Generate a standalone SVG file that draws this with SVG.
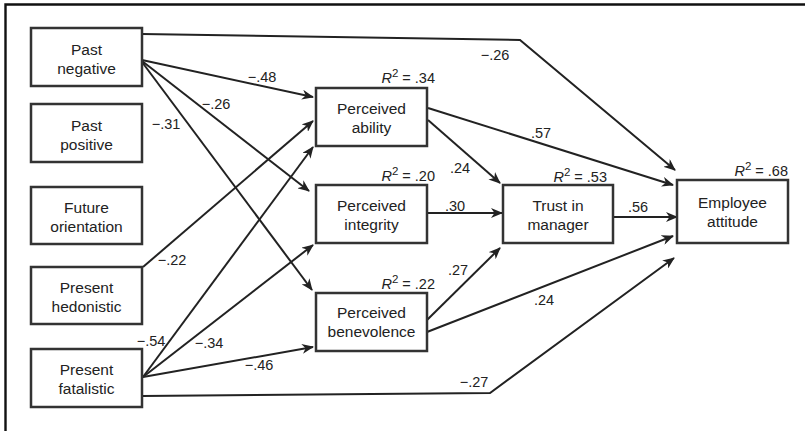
<svg xmlns="http://www.w3.org/2000/svg" width="805" height="431" viewBox="0 0 805 431">
<defs>
<style>
.box{fill:#fff;stroke:#333;stroke-width:2.5}
.nt{font-family:"Liberation Sans",Arial,sans-serif;font-size:15.5px;fill:#222;text-anchor:middle}
.lb{font-family:"Liberation Sans",Arial,sans-serif;font-size:14.5px;fill:#222;text-anchor:middle}
.r2{font-family:"Liberation Sans",Arial,sans-serif;font-size:14.5px;fill:#222;text-anchor:end}
.ln{fill:none;stroke:#222;stroke-width:2}
.ar{marker-end:url(#ah)}
</style>
<marker id="ah" viewBox="0 0 12 10" refX="11" refY="5" markerWidth="12" markerHeight="10" markerUnits="userSpaceOnUse" orient="auto">
<path d="M0,0 L12,5 L0,10 L3.5,5 z" fill="#222"/>
</marker>
</defs>
<rect width="805" height="431" fill="#fff"/>
<path d="M5.5,431 L5.5,4.5 L805,4.5" fill="none" stroke="#111" stroke-width="2.4"/>

<g id="connectors">
<path class="ln ar" d="M142,34 L520,40 L675,170"/>
<path class="ln ar" d="M142,60 L313,97"/>
<path class="ln ar" d="M142,61 L309,191"/>
<path class="ln ar" d="M142,62 L312,290"/>
<path class="ln ar" d="M143,267 L313,121"/>
<path class="ln ar" d="M143,377 L313,147"/>
<path class="ln ar" d="M143,377 L313,245"/>
<path class="ln ar" d="M143,377 L313,347"/>
<path class="ln ar" d="M142,396 L490,393 L674,258"/>
<path class="ln ar" d="M428,108 L673,185"/>
<path class="ln ar" d="M428,120 L500,183"/>
<path class="ln ar" d="M427,213 L502,213"/>
<path class="ln ar" d="M427,320 L500,248"/>
<path class="ln ar" d="M427,332 L673,236"/>
<path class="ln ar" d="M613,217 L677,217"/>
<text class="lb" x="495" y="60">−.26</text>
<text class="lb" x="262" y="82">−.48</text>
<text class="lb" x="216" y="109">−.26</text>
<text class="lb" x="166" y="129">−.31</text>
<text class="lb" x="172" y="265">−.22</text>
<text class="lb" x="151" y="346">−.54</text>
<text class="lb" x="209" y="348">−.34</text>
<text class="lb" x="259" y="370">−.46</text>
<text class="lb" x="474" y="387">−.27</text>
<text class="lb" x="541" y="138">.57</text>
<text class="lb" x="460" y="173">.24</text>
<text class="lb" x="455" y="211">.30</text>
<text class="lb" x="458" y="275">.27</text>
<text class="lb" x="544" y="305">.24</text>
<text class="lb" x="638" y="212">.56</text>
</g>

<g id="past-negative">
<rect class="box" x="31" y="28" width="111" height="58"/>
<text class="nt" x="86.5" y="54.5">Past</text>
<text class="nt" x="86.5" y="73.5">negative</text>
</g>
<g id="past-positive">
<rect class="box" x="31" y="104" width="111" height="58"/>
<text class="nt" x="86.5" y="130.5">Past</text>
<text class="nt" x="86.5" y="149.5">positive</text>
</g>
<g id="future-orientation">
<rect class="box" x="31" y="187" width="111" height="57"/>
<text class="nt" x="86.5" y="213">Future</text>
<text class="nt" x="86.5" y="232">orientation</text>
</g>
<g id="present-hedonistic">
<rect class="box" x="31" y="267" width="111" height="57"/>
<text class="nt" x="86.5" y="293">Present</text>
<text class="nt" x="86.5" y="312">hedonistic</text>
</g>
<g id="present-fatalistic">
<rect class="box" x="31" y="349" width="111" height="58"/>
<text class="nt" x="86.5" y="375">Present</text>
<text class="nt" x="86.5" y="394">fatalistic</text>
</g>

<g id="perceived-ability">
<rect class="box" x="316" y="88" width="111" height="58"/>
<text class="nt" x="371.5" y="114">Perceived</text>
<text class="nt" x="371.5" y="133">ability</text>
<text class="r2" x="435" y="83"><tspan font-style="italic">R</tspan><tspan dy="-6" font-size="11.5">2</tspan><tspan dy="6"> = .34</tspan></text>
</g>
<g id="perceived-integrity">
<rect class="box" x="316" y="185" width="111" height="58"/>
<text class="nt" x="371.5" y="211">Perceived</text>
<text class="nt" x="371.5" y="230">integrity</text>
<text class="r2" x="435" y="181"><tspan font-style="italic">R</tspan><tspan dy="-6" font-size="11.5">2</tspan><tspan dy="6"> = .20</tspan></text>
</g>
<g id="perceived-benevolence">
<rect class="box" x="316" y="293" width="111" height="58"/>
<text class="nt" x="371.5" y="318">Perceived</text>
<text class="nt" x="371.5" y="337">benevolence</text>
<text class="r2" x="435" y="289"><tspan font-style="italic">R</tspan><tspan dy="-6" font-size="11.5">2</tspan><tspan dy="6"> = .22</tspan></text>
</g>
<g id="trust-in-manager">
<rect class="box" x="503" y="185" width="110" height="58"/>
<text class="nt" x="558" y="211">Trust in</text>
<text class="nt" x="558" y="230">manager</text>
<text class="r2" x="607" y="181.5"><tspan font-style="italic">R</tspan><tspan dy="-6" font-size="11.5">2</tspan><tspan dy="6"> = .53</tspan></text>
</g>
<g id="employee-attitude">
<rect class="box" x="677" y="180" width="111" height="63"/>
<text class="nt" x="732.5" y="208">Employee</text>
<text class="nt" x="732.5" y="227">attitude</text>
<text class="r2" x="788" y="176"><tspan font-style="italic">R</tspan><tspan dy="-6" font-size="11.5">2</tspan><tspan dy="6"> = .68</tspan></text>
</g>
</svg>
